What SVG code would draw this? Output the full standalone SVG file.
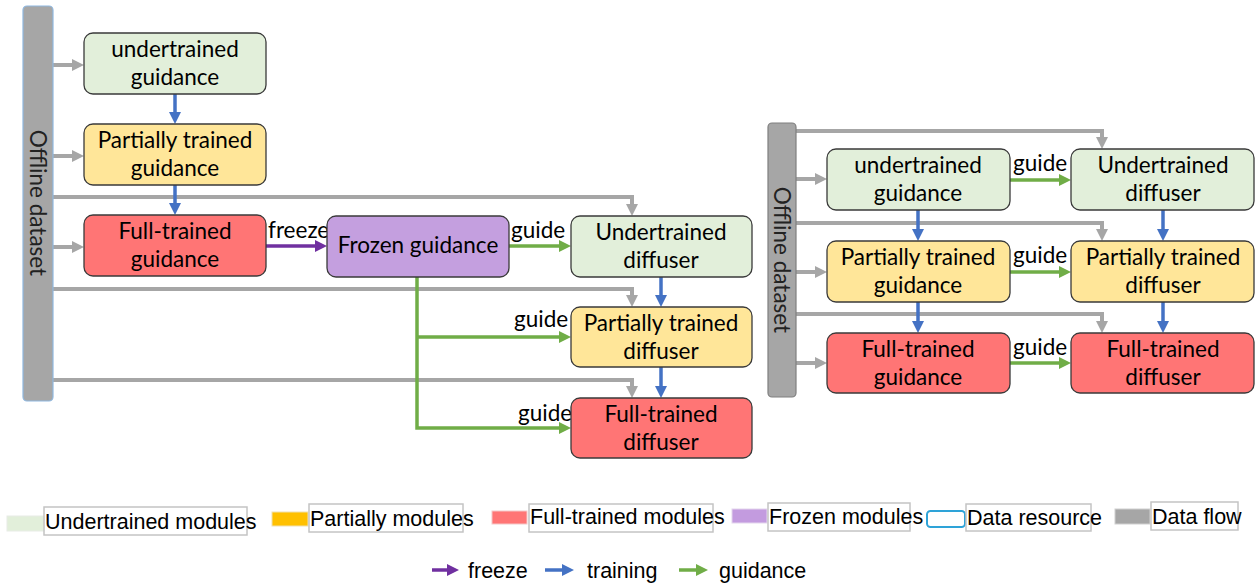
<svg xmlns="http://www.w3.org/2000/svg" width="1258" height="585" viewBox="0 0 1258 585">
  <style>
    .node rect { stroke: #3a3a3a; stroke-width: 1.3; }
    .ntext { font-family: Lato, "Open Sans", sans-serif; font-size: 22.5px; fill: #000; text-anchor: middle; }
    .lbl { font-family: Lato, "Open Sans", sans-serif; font-size: 22.5px; fill: #000; }
    .bartext { font-family: Lato, "Open Sans", sans-serif; font-size: 22.5px; fill: #222; text-anchor: middle; }
    .und { fill: #e2efda; }
    .par { fill: #ffe699; }
    .ful { fill: #ff7575; }
    .frz { fill: #c49fdf; }
    .flow { fill: none; stroke: #a6a6a6; stroke-width: 4; marker-end: url(#ahGray); }
    .train { fill: none; stroke: #4472c4; stroke-width: 3.5; marker-end: url(#ahBlue); }
    .guide { fill: none; stroke: #70ad47; stroke-width: 3.5; marker-end: url(#ahGreen); }
    .freeze { fill: none; stroke: #7030a0; stroke-width: 3.5; marker-end: url(#ahPurple); }
    .legtext { font-family: "Liberation Sans", Arial, sans-serif; font-size: 21.5px; fill: #000; }
    .legbox { fill: none; stroke: #c4c4c4; stroke-width: 1.5; }
  </style>
  <defs>
    <marker id="ahGray" viewBox="0 0 12 12" refX="0" refY="6" markerWidth="12" markerHeight="12" markerUnits="userSpaceOnUse" orient="auto">
      <path d="M0,0 L12,6 L0,12 z" fill="#a6a6a6"/>
    </marker>
    <marker id="ahBlue" viewBox="0 0 12 12" refX="0" refY="6" markerWidth="12" markerHeight="12" markerUnits="userSpaceOnUse" orient="auto">
      <path d="M0,0 L12,6 L0,12 z" fill="#4472c4"/>
    </marker>
    <marker id="ahGreen" viewBox="0 0 12 12" refX="0" refY="6" markerWidth="12" markerHeight="12" markerUnits="userSpaceOnUse" orient="auto">
      <path d="M0,0 L12,6 L0,12 z" fill="#70ad47"/>
    </marker>
    <marker id="ahPurple" viewBox="0 0 12 12" refX="0" refY="6" markerWidth="12" markerHeight="12" markerUnits="userSpaceOnUse" orient="auto">
      <path d="M0,0 L12,6 L0,12 z" fill="#7030a0"/>
    </marker>
  </defs>

  <rect width="1258" height="585" fill="#ffffff"/>

  <!-- connectors: data flow first, then training / freeze / guidance on top -->
  <g id="connectors">
    <!-- left pipeline: data flow -->
    <path class="flow" d="M53,65 H72"/>
    <path class="flow" d="M53,156 H72"/>
    <path class="flow" d="M53,247 H72"/>
    <path class="flow" d="M53,197 H632 V204"/>
    <path class="flow" d="M53,289 H632 V295"/>
    <path class="flow" d="M53,380 H632 V386"/>
    <!-- right pipeline: data flow -->
    <path class="flow" d="M796,179 H815"/>
    <path class="flow" d="M796,272 H815"/>
    <path class="flow" d="M796,363 H815"/>
    <path class="flow" d="M796,131 H1102 V137"/>
    <path class="flow" d="M796,223 H1102 V229"/>
    <path class="flow" d="M796,314 H1102 V321"/>

    <!-- training -->
    <path class="train" d="M175,94 V112"/>
    <path class="train" d="M175,185 V203"/>
    <path class="train" d="M661,277 V295"/>
    <path class="train" d="M661,367 V386"/>
    <path class="train" d="M918,210 V229"/>
    <path class="train" d="M918,302 V321"/>
    <path class="train" d="M1163,210 V229"/>
    <path class="train" d="M1163,302 V321"/>

    <!-- freeze -->
    <path class="freeze" d="M266,246 H315"/>

    <!-- guidance -->
    <path class="guide" d="M509,246 H559"/>
    <path class="guide" d="M417,277 V428 H559"/>
    <path class="guide" d="M417,337 H559"/>
    <path class="guide" d="M1010,180 H1059"/>
    <path class="guide" d="M1010,272 H1059"/>
    <path class="guide" d="M1010,363 H1059"/>

    <!-- edge labels -->
    <text class="lbl" x="268" y="238">freeze</text>
    <text class="lbl" x="511" y="238">guide</text>
    <text class="lbl" x="514" y="327">guide</text>
    <text class="lbl" x="518" y="421">guide</text>
    <text class="lbl" x="1013" y="171">guide</text>
    <text class="lbl" x="1013" y="263">guide</text>
    <text class="lbl" x="1013" y="355">guide</text>
  </g>

  <!-- left pipeline -->
  <g id="dataset-left">
    <rect x="23" y="6" width="30" height="395" rx="4" fill="#a6a6a6" stroke="#8fb8e0" stroke-width="1.2"/>
    <text class="bartext" transform="translate(30,203) rotate(90)">Offline dataset</text>
  </g>
  <g id="left-undertrained-guidance" class="node">
    <rect class="und" x="84" y="33" width="182" height="61" rx="9"/>
    <text class="ntext" x="175" y="57">undertrained</text>
    <text class="ntext" x="175" y="85">guidance</text>
  </g>
  <g id="left-partial-guidance" class="node">
    <rect class="par" x="84" y="124" width="182" height="61" rx="9"/>
    <text class="ntext" x="175" y="148">Partially trained</text>
    <text class="ntext" x="175" y="176">guidance</text>
  </g>
  <g id="left-full-guidance" class="node">
    <rect class="ful" x="84" y="215" width="182" height="61" rx="9"/>
    <text class="ntext" x="175" y="239">Full-trained</text>
    <text class="ntext" x="175" y="267">guidance</text>
  </g>
  <g id="frozen-guidance" class="node">
    <rect class="frz" x="327" y="216" width="182" height="61" rx="9"/>
    <text class="ntext" x="418" y="253">Frozen guidance</text>
  </g>
  <g id="left-undertrained-diffuser" class="node">
    <rect class="und" x="571" y="216" width="181" height="61" rx="9"/>
    <text class="ntext" x="661" y="240">Undertrained</text>
    <text class="ntext" x="661" y="268">diffuser</text>
  </g>
  <g id="left-partial-diffuser" class="node">
    <rect class="par" x="571" y="307" width="181" height="60" rx="9"/>
    <text class="ntext" x="661" y="331">Partially trained</text>
    <text class="ntext" x="661" y="359">diffuser</text>
  </g>
  <g id="left-full-diffuser" class="node">
    <rect class="ful" x="571" y="398" width="181" height="60" rx="9"/>
    <text class="ntext" x="661" y="422">Full-trained</text>
    <text class="ntext" x="661" y="450">diffuser</text>
  </g>

  <!-- right pipeline -->
  <g id="dataset-right">
    <rect x="768" y="123" width="28" height="274" rx="4" fill="#a6a6a6" stroke="#7f7f7f" stroke-width="1.2"/>
    <text class="bartext" transform="translate(774,260) rotate(90)">Offline dataset</text>
  </g>
  <g id="right-undertrained-guidance" class="node">
    <rect class="und" x="827" y="149" width="183" height="61" rx="9"/>
    <text class="ntext" x="918" y="173">undertrained</text>
    <text class="ntext" x="918" y="201">guidance</text>
  </g>
  <g id="right-partial-guidance" class="node">
    <rect class="par" x="827" y="241" width="183" height="61" rx="9"/>
    <text class="ntext" x="918" y="265">Partially trained</text>
    <text class="ntext" x="918" y="293">guidance</text>
  </g>
  <g id="right-full-guidance" class="node">
    <rect class="ful" x="827" y="333" width="183" height="60" rx="9"/>
    <text class="ntext" x="918" y="357">Full-trained</text>
    <text class="ntext" x="918" y="385">guidance</text>
  </g>
  <g id="right-undertrained-diffuser" class="node">
    <rect class="und" x="1071" y="149" width="183" height="61" rx="9"/>
    <text class="ntext" x="1163" y="173">Undertrained</text>
    <text class="ntext" x="1163" y="201">diffuser</text>
  </g>
  <g id="right-partial-diffuser" class="node">
    <rect class="par" x="1071" y="241" width="183" height="61" rx="9"/>
    <text class="ntext" x="1163" y="265">Partially trained</text>
    <text class="ntext" x="1163" y="293">diffuser</text>
  </g>
  <g id="right-full-diffuser" class="node">
    <rect class="ful" x="1071" y="333" width="183" height="60" rx="9"/>
    <text class="ntext" x="1163" y="357">Full-trained</text>
    <text class="ntext" x="1163" y="385">diffuser</text>
  </g>

  <!-- legend: module colours -->
  <g id="legend-modules">
    <rect x="7" y="516" width="37" height="15" fill="#e2efda" stroke="#e8ece6" stroke-width="1"/>
    <rect class="legbox" x="44" y="507" width="203" height="28"/>
    <text class="legtext" x="45" y="529">Undertrained modules</text>

    <rect x="272" y="512" width="36" height="14" fill="#ffc000" stroke="#f0e0b0" stroke-width="1"/>
    <rect class="legbox" x="309" y="504" width="154" height="28"/>
    <text class="legtext" x="310" y="526">Partially modules</text>

    <rect x="492" y="511" width="35" height="13" fill="#ff7575" stroke="#f4c8c8" stroke-width="1"/>
    <rect class="legbox" x="529" y="504" width="184" height="28"/>
    <text class="legtext" x="530" y="524">Full-trained modules</text>

    <rect x="732" y="509" width="35" height="14" fill="#c39bdf" stroke="#e4d6ee" stroke-width="1"/>
    <rect class="legbox" x="768" y="503" width="142" height="28"/>
    <text class="legtext" x="769" y="524">Frozen modules</text>

    <rect x="927" y="511" width="38" height="16" rx="3.5" fill="#ffffff" stroke="#2ea3d8" stroke-width="2"/>
    <rect class="legbox" x="966" y="504" width="125" height="27"/>
    <text class="legtext" x="967" y="525">Data resource</text>

    <rect x="1115" y="509" width="35" height="15" fill="#a6a6a6" stroke="#d0d0d0" stroke-width="1"/>
    <rect class="legbox" x="1151" y="502" width="87" height="28"/>
    <text class="legtext" x="1152" y="524">Data flow</text>
  </g>

  <!-- legend: arrow kinds -->
  <g id="legend-arrows">
    <path class="freeze" d="M432,570 H447"/>
    <text class="legtext" x="468" y="578">freeze</text>
    <path class="train" d="M545,570 H562"/>
    <text class="legtext" x="587" y="578">training</text>
    <path class="guide" d="M679,570 H696"/>
    <text class="legtext" x="719" y="578">guidance</text>
  </g>
</svg>
